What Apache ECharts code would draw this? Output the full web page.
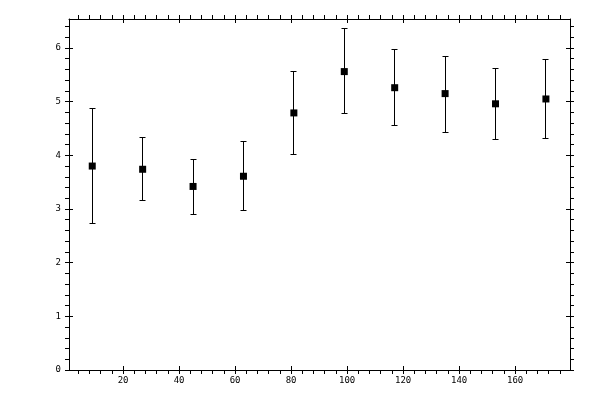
<!DOCTYPE html>
<html>
<head>
<meta charset="utf-8">
<script src="https://cdn.jsdelivr.net/npm/echarts@6/dist/echarts.min.js"></script>
<style>
html,body{margin:0;padding:0;background:#fff;}
#chart{width:600px;height:400px;}
</style>
</head>
<body>
<div id="chart"></div>
<script>
// ---- data ----
var xValues = [9, 27, 45, 63, 81, 99, 117, 135, 153, 171];
var means   = [3.80, 3.74, 3.42, 3.61, 4.79, 5.56, 5.26, 5.15, 4.96, 5.05];
var lows    = [2.73, 3.15, 2.90, 2.98, 4.02, 4.77, 4.55, 4.43, 4.29, 4.32];
var highs   = [4.88, 4.33, 3.93, 4.25, 5.56, 6.36, 5.97, 5.85, 5.62, 5.79];
var xTicks  = [20, 40, 60, 80, 100, 120, 140, 160];
var yTicks  = [0, 1, 2, 3, 4, 5, 6];

var X_MIN = 0.7, X_MAX = 179.6, Y_MIN = 0, Y_MAX = 6.54;

var pointData = xValues.map(function (x, i) { return [x, means[i]]; });
var errData = xValues.map(function (x, i) { return [x, lows[i], highs[i]]; });

var labelFont = { fontFamily: 'DejaVu Sans Mono', fontSize: 9, color: '#000' };
var lineStyle = { color: '#000', width: 1 };

function xAxisDef(pos, outer) {
  return {
    type: 'value', position: pos, min: X_MIN, max: X_MAX, splitNumber: 9,
    axisLine: { show: outer, onZero: false, lineStyle: lineStyle },
    axisTick: { show: true, inside: !outer, length: 4, customValues: xTicks, lineStyle: lineStyle },
    minorTick: { show: outer, splitNumber: 5, length: 4, lineStyle: lineStyle },
    axisLabel: Object.assign({ show: outer && pos === 'bottom', customValues: xTicks, margin: 6 }, labelFont),
    splitLine: { show: false }
  };
}
function yAxisDef(pos, outer) {
  return {
    type: 'value', position: pos, min: Y_MIN, max: Y_MAX, interval: 1,
    axisLine: { show: outer, onZero: false, lineStyle: lineStyle },
    axisTick: { show: true, inside: !outer, length: 4, customValues: yTicks, lineStyle: lineStyle },
    minorTick: { show: outer, splitNumber: 5, length: 4, lineStyle: lineStyle },
    axisLabel: Object.assign({ show: outer && pos === 'left', customValues: yTicks, margin: 8 }, labelFont),
    splitLine: { show: false }
  };
}

function crisp(v) { return Math.round(v - 0.5) + 0.5; }

var chart = echarts.init(document.getElementById('chart'));
chart.setOption({
  animation: false,
  backgroundColor: '#fff',
  grid: { left: 69, right: 30, top: 19, bottom: 30, containLabel: false, outerBoundsMode: 'none' },
  xAxis: [xAxisDef('bottom', true), xAxisDef('bottom', false), xAxisDef('top', true), xAxisDef('top', false)],
  yAxis: [yAxisDef('left', true), yAxisDef('left', false), yAxisDef('right', true), yAxisDef('right', false)],
  series: [
    {
      type: 'custom',
      xAxisIndex: 0, yAxisIndex: 0,
      data: errData,
      renderItem: function (params, api) {
        var x = api.value(0);
        var pLo = api.coord([x, api.value(1)]);
        var pHi = api.coord([x, api.value(2)]);
        var cx = crisp(pLo[0]);
        var yLo = crisp(pLo[1]), yHi = crisp(pHi[1]);
        var hw = 2.5;
        var st = { stroke: '#000', lineWidth: 1 };
        return {
          type: 'group',
          children: [
            { type: 'line', shape: { x1: cx, y1: yLo, x2: cx, y2: yHi }, style: st },
            { type: 'line', shape: { x1: cx - hw - 0.5, y1: yHi, x2: cx + hw + 0.5, y2: yHi }, style: st },
            { type: 'line', shape: { x1: cx - hw - 0.5, y1: yLo, x2: cx + hw + 0.5, y2: yLo }, style: st }
          ]
        };
      },
      z: 2
    },
    {
      type: 'scatter',
      xAxisIndex: 0, yAxisIndex: 0,
      data: pointData,
      symbol: 'rect',
      symbolSize: 7,
      itemStyle: { color: '#000', opacity: 1 },
      z: 3
    }
  ]
});
</script>
</body>
</html>
